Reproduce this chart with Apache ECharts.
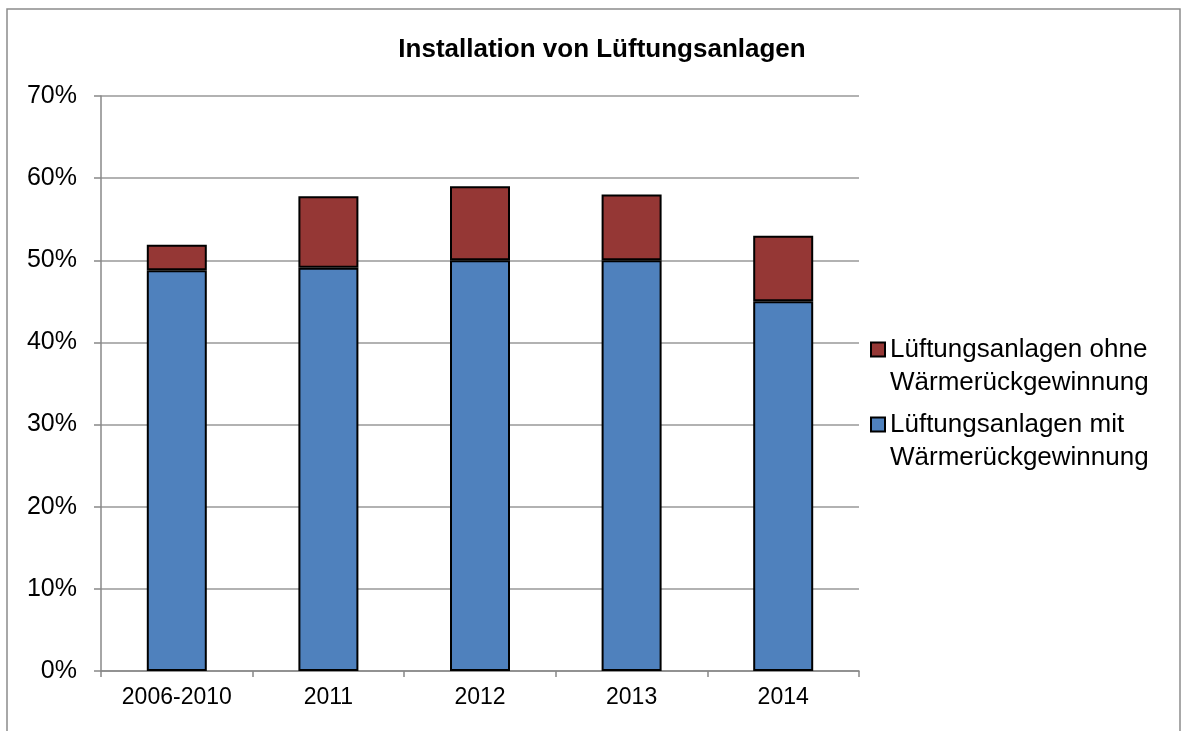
<!DOCTYPE html>
<html>
<head>
<meta charset="utf-8">
<script src="https://cdn.jsdelivr.net/npm/echarts@6/dist/echarts.min.js"></script>
<style>
  html, body { margin: 0; padding: 0; background: #fff; }
  #chart { width: 1181px; height: 731px; }
</style>
</head>
<body>
<div id="chart"></div>
<script>
// Share of new buildings with ventilation systems, in percent
const categories = ['2006-2010', '2011', '2012', '2013', '2014'];
const mitWRG = [48.8, 49.1, 50, 50, 45];     // with heat recovery
const ohneWRG = [3.1, 8.7, 9.0, 8.0, 8.0];   // without heat recovery
const nameOhne = 'Lüftungsanlagen ohne\nWärmerückgewinnung';
const nameMit = 'Lüftungsanlagen mit\nWärmerückgewinnung';
const titleText = 'Installation von Lüftungsanlagen';

const FONT = '"Liberation Sans", Arial, sans-serif';
const chart = echarts.init(document.getElementById('chart'), null, { renderer: 'canvas' });

chart.setOption({
  backgroundColor: '#fff',
  animation: false,
  textStyle: { fontFamily: FONT, color: '#000' },
  title: {
    text: titleText,
    left: 597,
    top: 32,
    textAlign: 'center',
    textStyle: { fontFamily: FONT, fontSize: 26, fontWeight: 'bold', color: '#000' }
  },
  graphic: [{
    type: 'rect',
    shape: { x: 7, y: 9, width: 1173, height: 800 },
    style: { fill: 'none', stroke: '#8c8c8c', lineWidth: 1.5 },
    silent: true
  }],
  legend: {
    orient: 'vertical',
    left: 870,
    top: 300,
    padding: 0,
    itemGap: -24,
    itemWidth: 14,
    itemHeight: 14,
    icon: 'rect',
    data: [nameOhne, nameMit],
    // a leading empty line keeps the swatch level with the first text line
    formatter: name => '\n' + name,
    textStyle: { fontFamily: FONT, fontSize: 26, color: '#000', lineHeight: 33 }
  },
  grid: { left: 101, right: 322, top: 96, bottom: 60 },
  xAxis: {
    type: 'category',
    data: categories,
    axisLine: { lineStyle: { color: '#888', width: 1.5 } },
    axisTick: { show: true, length: 6, lineStyle: { color: '#888', width: 1.5 } },
    axisLabel: { fontFamily: FONT, fontSize: 23, color: '#000', margin: 15 }
  },
  yAxis: {
    type: 'value',
    min: 0,
    max: 70,
    interval: 10,
    axisLine: { show: true, lineStyle: { color: '#888', width: 1.5 } },
    axisTick: { show: true, length: 7, lineStyle: { color: '#888', width: 1.5 } },
    splitLine: { lineStyle: { color: '#999', width: 1.5 } },
    axisLabel: { fontFamily: FONT, fontSize: 25, color: '#000', margin: 24, formatter: '{value}%' }
  },
  series: [
    {
      name: nameMit,
      type: 'bar',
      stack: 'total',
      data: mitWRG,
      barWidth: 60,
      itemStyle: { color: '#4F81BD', borderColor: '#000', borderWidth: 2 }
    },
    {
      name: nameOhne,
      type: 'bar',
      stack: 'total',
      data: ohneWRG,
      barWidth: 60,
      itemStyle: { color: '#953735', borderColor: '#000', borderWidth: 2 }
    }
  ]
});
</script>
</body>
</html>
